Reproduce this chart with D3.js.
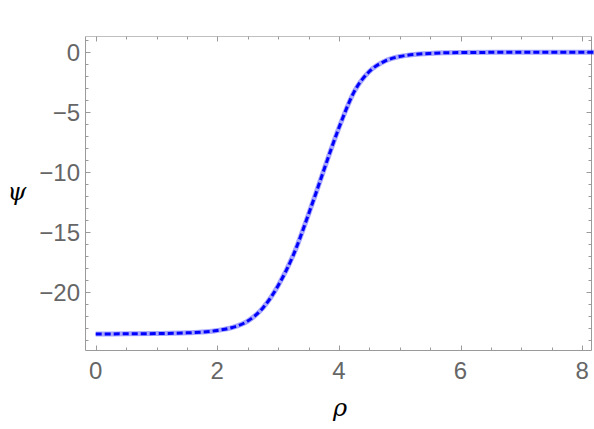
<!DOCTYPE html>
<html>
<head>
<meta charset="utf-8">
<script src="https://cdn.jsdelivr.net/npm/d3@7/dist/d3.min.js"></script>
<style>
  body { margin: 0; background: #fff; }
  svg { display: block; }
</style>
</head>
<body>
<script>
// ----- DATA -----
const rho = [0, 0.5, 1, 1.5, 2, 2.25, 2.5, 2.75, 3, 3.25, 3.5, 3.625, 3.75, 4, 4.25, 4.5, 4.75, 5, 5.5, 6, 7, 8.2];
const psi = [-23.47, -23.46, -23.44, -23.38, -23.18, -22.93, -22.4, -21.3, -19.45, -16.9, -13.5, -11.7, -9.85, -6.3, -3.3, -1.6, -0.75, -0.35, -0.09, -0.02, 0, 0];
const xTicks = [0, 2, 4, 6, 8];
const yTicks = [0, -5, -10, -15, -20];

const w = 594, h = 429;
const fLeft = 85.5, fRight = 591.5, fTop = 36.5, fBottom = 350.5;

const svg = d3.select("body").append("svg")
  .attr("width", w)
  .attr("height", h);

// ----- SCALES -----
const xScale = d3.scaleLinear().domain([0, 2]).range([95.7, 217.3]);
const yScale = d3.scaleLinear().domain([0, -5]).range([52.3, 112.3]);

// ----- FRAME -----
const frameColor = "#9a9a9a";
svg.append("line").attr("x1", fLeft).attr("x2", fRight).attr("y1", fTop).attr("y2", fTop)
  .attr("stroke", "#c0c0c0");
svg.append("line").attr("x1", fRight).attr("x2", fRight).attr("y1", fTop).attr("y2", fBottom)
  .attr("stroke", frameColor);
svg.append("line").attr("x1", fLeft).attr("x2", fLeft).attr("y1", fTop).attr("y2", fBottom)
  .attr("stroke", frameColor);
svg.append("line").attr("x1", fLeft).attr("x2", fRight).attr("y1", fBottom).attr("y2", fBottom)
  .attr("stroke", frameColor);

// ticks: majors + minors, on all four sides, pointing inward
const xMinor = d3.range(0, 8.01, 0.5).filter(v => xTicks.indexOf(v) < 0);
const yMinor = d3.range(-24, 1.01, 1).filter(v => yTicks.indexOf(v) < 0);
const ticks = svg.append("g").attr("stroke", frameColor).attr("stroke-width", 1);

function xTick(v, len) {
  const x = Math.round(xScale(v)) + 0.5;
  ticks.append("line").attr("x1", x).attr("x2", x).attr("y1", fBottom).attr("y2", fBottom - len);
  ticks.append("line").attr("x1", x).attr("x2", x).attr("y1", fTop).attr("y2", fTop + len);
}
function yTick(v, len) {
  const y = Math.round(yScale(v)) + 0.5;
  ticks.append("line").attr("x1", fLeft).attr("x2", fLeft + len).attr("y1", y).attr("y2", y);
  ticks.append("line").attr("x1", fRight).attr("x2", fRight - len).attr("y1", y).attr("y2", y);
}
xTicks.forEach(v => xTick(v, 5));
xMinor.forEach(v => xTick(v, 3));
yTicks.forEach(v => yTick(v, 5));
yMinor.forEach(v => yTick(v, 3));

// ----- TICK LABELS -----
const labelFont = "'Liberation Sans', Arial, sans-serif";
svg.append("g").selectAll("text").data(xTicks).enter().append("text")
  .attr("x", d => xScale(d))
  .attr("y", 378.5)
  .attr("text-anchor", "middle")
  .attr("font-family", labelFont)
  .attr("font-size", 24)
  .attr("fill", "#666")
  .text(d => d);

svg.append("g").selectAll("text").data(yTicks).enter().append("text")
  .attr("x", 80)
  .attr("y", d => yScale(d) + 8.5)
  .attr("text-anchor", "end")
  .attr("font-family", labelFont)
  .attr("font-size", 24)
  .attr("fill", "#666")
  .text(d => d === 0 ? "0" : "\u2212" + Math.abs(d));

// ----- AXIS TITLES (serif italic greek) -----
const greekFont = "'DejaVu Serif', serif";
svg.append("text")
  .attr("x", 17).attr("y", 200)
  .attr("text-anchor", "middle")
  .style("font-family", greekFont)
  .style("font-style", "italic")
  .attr("font-size", 24)
  .attr("fill", "#000")
  .text("\u03C8");

svg.append("text")
  .attr("x", 340).attr("y", 416)
  .attr("text-anchor", "middle")
  .style("font-family", greekFont)
  .style("font-style", "italic")
  .attr("font-size", 24)
  .attr("fill", "#000")
  .text("\u03C1");

// ----- CURVE -----
const pts = rho.map((r, i) => [r, psi[i]]);
const line = d3.line()
  .x(d => xScale(d[0]))
  .y(d => yScale(d[1]))
  .curve(d3.curveMonotoneX);

const plot = svg.append("g");
plot.append("path")
  .attr("d", line(pts))
  .attr("fill", "none")
  .attr("stroke", "#0000ff")
  .attr("stroke-opacity", 0.35)
  .attr("stroke-width", 5);

plot.append("path")
  .attr("d", line(pts))
  .attr("fill", "none")
  .attr("stroke", "#0000ff")
  .attr("stroke-width", 3)
  .attr("stroke-dasharray", "6,3");
</script>
</body>
</html>
